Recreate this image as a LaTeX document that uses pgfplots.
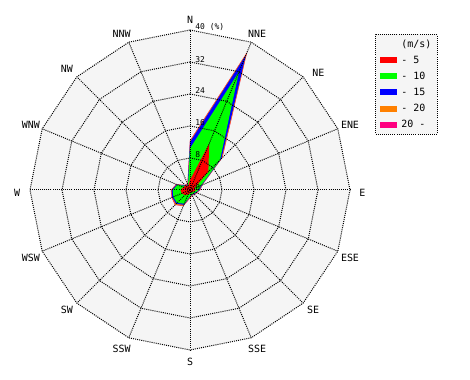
\documentclass[border=0pt]{standalone}
\usepackage{pgfplots}
\pgfplotsset{compat=1.18}
\usepackage{fontspec}
\setmainfont{DejaVu Sans Mono}
\definecolor{bg}{RGB}{245,245,245}
\definecolor{c1}{RGB}{255,0,0}
\definecolor{c2}{RGB}{0,255,0}
\definecolor{c3}{RGB}{0,0,255}
\definecolor{c4}{RGB}{255,128,0}
\definecolor{c5}{RGB}{255,0,128}
\tikzset{griddot/.style={black, line width=1bp, dash pattern=on 1bp off 1.1bp}}
\begin{document}
\begin{tikzpicture}
\begin{axis}[scale only axis, width=470bp, height=380bp,
  xmin=-47.5, xmax=70, ymin=-47.5, ymax=47.5, hide axis, clip=false,
  legend cell align=left,
  legend style={at={(axis cs:46.25,39)}, anchor=north west, draw=black,
    dash pattern=on 1bp off 1.1bp, line width=1bp, fill=bg,
    font=\fontsize{10}{12}\selectfont, row sep=3.3bp, column sep=3bp,
    inner xsep=4bp, inner ysep=3bp},
  legend image code/.code={\fill[#1] (0bp,-2.5bp) rectangle (16bp,2.5bp);}]
\path (axis cs:-47.5,-47.5) rectangle (axis cs:70,47.5);
% background
\addplot[fill=bg, draw=none, data cs=polar, forget plot] coordinates {(90,40)(67.5,40)(45,40)(22.5,40)(0,40)(-22.5,40)(-45,40)(-67.5,40)(-90,40)(-112.5,40)(-135,40)(-157.5,40)(180,40)(157.5,40)(135,40)(112.5,40)(90,40)};
% data (cumulative %)
\addplot[fill=c5, draw=none, data cs=polar, forget plot] coordinates {(90,12.4)(67.5,37.3)(45,11.5)(22.5,3.4)(0,2.6)(-22.5,1.9)(-45,1.7)(-67.5,1.5)(-90,2.1)(-112.5,4.4)(-135,5.3)(-157.5,5.0)(180,4.8)(157.5,3.8)(135,1.8)(112.5,1.7)(90,12.4)};
\addplot[fill=c4, draw=none, data cs=polar, forget plot] coordinates {(90,12.3)(67.5,37.2)(45,11.4)(22.5,3.3)(0,2.5)(-22.5,1.8)(-45,1.6)(-67.5,1.4)(-90,2.0)(-112.5,4.3)(-135,5.2)(-157.5,4.9)(180,4.7)(157.5,3.7)(135,1.7)(112.5,1.6)(90,12.3)};
\addplot[fill=c3, draw=none, data cs=polar, forget plot] coordinates {(90,12.0)(67.5,36.5)(45,11.1)(22.5,3.2)(0,2.4)(-22.5,1.7)(-45,1.5)(-67.5,1.3)(-90,1.8)(-112.5,4.0)(-135,4.9)(-157.5,4.8)(180,4.6)(157.5,3.6)(135,1.6)(112.5,1.5)(90,12.0)};
\addplot[fill=c2, draw=none, data cs=polar, forget plot] coordinates {(90,10.4)(67.5,32.0)(45,10.6)(22.5,3.0)(0,2.2)(-22.5,1.5)(-45,1.3)(-67.5,1.2)(-90,1.6)(-112.5,3.7)(-135,4.6)(-157.5,4.5)(180,4.3)(157.5,3.4)(135,1.4)(112.5,1.3)(90,10.4)};
\addplot[fill=c1, draw=none, data cs=polar, forget plot] coordinates {(90,2.5)(67.5,12.5)(45,6.5)(22.5,1.2)(0,1.5)(-22.5,1.0)(-45,0.8)(-67.5,0.7)(-90,0.8)(-112.5,1.2)(-135,1.8)(-157.5,2.2)(180,2.4)(157.5,1.8)(135,1.6)(112.5,1.2)(90,2.5)};
% grid
\pgfplotsinvokeforeach{8,16,24,32,40}{
\addplot[griddot, data cs=polar, forget plot] coordinates {(90,#1)(67.5,#1)(45,#1)(22.5,#1)(0,#1)(-22.5,#1)(-45,#1)(-67.5,#1)(-90,#1)(-112.5,#1)(-135,#1)(-157.5,#1)(180,#1)(157.5,#1)(135,#1)(112.5,#1)(90,#1)};
}
\pgfplotsinvokeforeach{90,67.5,45,22.5,0,-22.5,-45,-67.5,-90,-112.5,-135,-157.5,180,157.5,135,112.5}{
\addplot[griddot, data cs=polar, forget plot] coordinates {(#1,0)(#1,40)};
}
% direction labels
\begin{scope}[font=\fontsize{10}{12}\selectfont]
\node at (axis cs:0,42.5) {N};
\node at (axis cs:16.8,39) {NNE};
\node at (axis cs:32.1,29.3) {NE};
\node at (axis cs:40,16.2) {ENE};
\node at (axis cs:43.1,-0.6) {E};
\node at (axis cs:40,-16.9) {ESE};
\node at (axis cs:30.8,-30) {SE};
\node at (axis cs:16.8,-39.75) {SSE};
\node at (axis cs:0,-42.9) {S};
\node at (axis cs:-17.1,-39.75) {SSW};
\node at (axis cs:-30.8,-30) {SW};
\node at (axis cs:-39.8,-16.9) {WSW};
\node at (axis cs:-43.2,-0.6) {W};
\node at (axis cs:-39.8,16.2) {WNW};
\node at (axis cs:-30.8,30.4) {NW};
\node at (axis cs:-17.1,39) {NNW};
\end{scope}
\begin{scope}[font=\fontsize{8}{9}\selectfont, inner sep=0pt]
\node[anchor=west] at (axis cs:1.3,40.8) {40 (\%)};
\node[anchor=west] at (axis cs:1.3,32.6) {32};
\node[anchor=west] at (axis cs:1.3,24.75) {24};
\node[anchor=west] at (axis cs:1.3,16.75) {16};
\node[anchor=west] at (axis cs:1.3,8.9) {8};
\node[anchor=west] at (axis cs:1.3,0.6) {0};
\end{scope}
% legend
\addlegendimage{empty legend}
\addlegendentry{(m/s)\hspace{20bp}}
\addlegendimage{c1}\addlegendentry{- 5}
\addlegendimage{c2}\addlegendentry{- 10}
\addlegendimage{c3}\addlegendentry{- 15}
\addlegendimage{c4}\addlegendentry{- 20}
\addlegendimage{c5}\addlegendentry{20 -}
\end{axis}
\end{tikzpicture}
\end{document}
